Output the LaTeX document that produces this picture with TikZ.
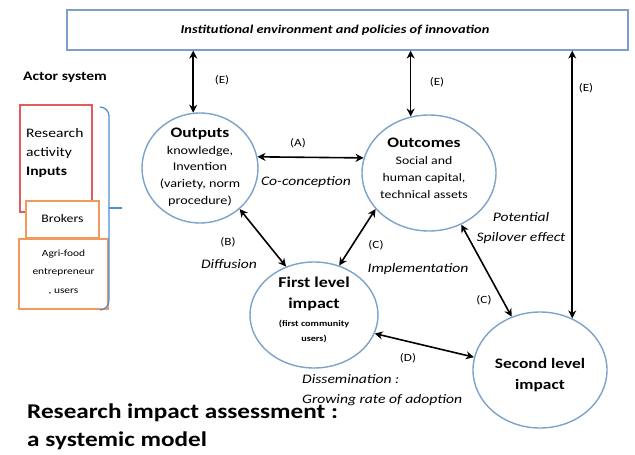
\documentclass[tikz,border=0pt]{standalone}
\usepackage{fontspec}
\setmainfont{Carlito}[FakeStretch=1.2]
\usetikzlibrary{shapes.geometric,arrows.meta}
\definecolor{ringblue}{HTML}{7DA3C9}
\definecolor{boxblue}{HTML}{7E9FCC}
\definecolor{bracketblue}{HTML}{4F8FD0}
\definecolor{inred}{HTML}{E25C5C}
\definecolor{inorange}{HTML}{F29A5E}
\tikzset{
  ring/.style={ellipse, draw=ringblue, line width=1.4pt, fill=white, inner sep=0pt},
  link/.style={line width=1.6pt, {Stealth[length=8pt,width=8pt]}-{Stealth[length=8pt,width=8pt]}},
  lbl/.style={font=\fontsize{11}{13}\selectfont, inner sep=0pt},
  itl/.style={font=\fontsize{13}{20}\selectfont\itshape, inner sep=0pt},
  actor/.style={line width=1.6pt, fill=white, inner sep=0pt},
}
\begin{document}
\begin{tikzpicture}[x=1pt,y=-1pt]
\useasboundingbox (0,0) rectangle (635,455);

% top frame
\node[draw=boxblue, line width=1.2pt, minimum width=561pt, minimum height=40pt, inner sep=0pt] (env) at (347.5,30) {};
\node[font=\fontsize{12}{14}\selectfont\bfseries\itshape] (envtxt) at (335,30) {Institutional environment and policies of innovation};

% actor system: three stacked boxes and the bracket grouping them
\node[font=\fontsize{13}{15}\selectfont\bfseries, inner sep=0pt] (actor) at (65,77) {Actor system};
\node[actor, draw=inred, minimum width=72pt, minimum height=107pt] (research) at (56,158.5) {};
\node[font=\fontsize{13}{19}\selectfont, align=left, anchor=north west, inner sep=0pt] (restxt) at (26,128) {Research\\activity\\\textbf{Inputs}};
\node[actor, draw=inorange, minimum width=73pt, minimum height=37pt] (brokers) at (62.5,219.5) {};
\node[font=\fontsize{11.5}{13}\selectfont, inner sep=0pt] (brokerstxt) at (62.5,219) {Brokers};
\node[actor, draw=inorange, minimum width=89pt, minimum height=70pt] (agri) at (63.5,274) {};
\node[font=\fontsize{9.5}{18.5}\selectfont, align=center, inner sep=0pt] (agritxt) at (63.5,272) {Agri-food\\entrepreneur\\, users};
\draw[bracketblue, line width=1.2pt] (100,107) to[out=0,in=90] (109,116) -- (109,300) to[out=-90,in=0] (100,310);
\draw[bracketblue, line width=1.2pt] (109,208) -- (122,208);

% the four stages
\node[ring, minimum width=116pt, minimum height=110pt] (out) at (200,168) {};
\node[ring, minimum width=134pt, minimum height=116pt] (outc) at (429,173) {};
\node[ring, minimum width=128pt, minimum height=106pt] (first) at (314,315) {};
\node[ring, minimum width=134pt, minimum height=116pt] (second) at (540,370) {};

\node[align=center, inner sep=0pt, font=\fontsize{11.8}{16.7}\selectfont] (outtxt) at (200,167)
  {{\fontsize{14.5}{16.7}\selectfont\bfseries Outputs}\\knowledge,\\Invention\\(variety, norm\\procedure)};
\node[align=center, inner sep=0pt, font=\fontsize{11.5}{17}\selectfont] (outctxt) at (424,168)
  {{\fontsize{14.5}{17}\selectfont\bfseries Outcomes}\\Social and\\human capital,\\technical assets};
\node[align=center, inner sep=0pt, font=\fontsize{15}{21}\selectfont\bfseries] (firsttxt) at (314,294)
  {First level\\impact};
\node[align=center, inner sep=0pt, font=\fontsize{8.5}{15}\selectfont\bfseries] (firstsub) at (314,331)
  {(first community\\users)};
\node[align=center, inner sep=0pt, font=\fontsize{14.5}{21}\selectfont\bfseries] (secondtxt) at (540,375)
  {Second level\\impact};

% links to the institutional frame
\draw[link] (out.97 |- env.south) -- (out.97);
\draw[link] (outc.108 |- env.south) -- (outc.108);
\draw[link] (second.58 |- env.south) -- (second.58);
\node[lbl] (e1) at (222,80) {(E)};
\node[lbl] (e2) at (437,82) {(E)};
\node[lbl] (e3) at (586,88) {(E)};

% links between stages
\draw[link] (out.11) -- (outc.167);
\node[lbl] (la) at (298,143) {(A)};
\node[itl] (coc) at (306,182) {Co-conception};

\draw[link] (out.-46) -- (first.120);
\node[lbl] (lb) at (228,242) {(B)};
\node[itl] (diff) at (229,264) {Diffusion};

\draw[link] (first.63) -- (outc.-146);
\node[lbl] (lc1) at (376,245) {(C)};
\node[itl] (impl) at (418,269) {Implementation};

\draw[link] (outc.-58) -- (second.118);
\node[lbl] (lc2) at (484,300) {(C)};
\node[itl, align=center] (spill) at (521,228) {Potential\\Spilover effect};

\draw[link] (first.-17) -- (second.169);
\node[lbl] (ld) at (408,358) {(D)};
\node[itl, anchor=base west] (diss) at (302,383) {Dissemination :};
\node[itl, anchor=base west] (grow) at (302,403) {Growing rate of adoption};

% title
\node[anchor=base west, inner sep=0pt, font=\fontsize{21}{25}\selectfont\bfseries] (title1) at (27,418)
  {Research impact assessment :};
\node[anchor=base west, inner sep=0pt, font=\fontsize{21}{25}\selectfont\bfseries] (title2) at (27,446)
  {a systemic model};
\end{tikzpicture}
\end{document}
